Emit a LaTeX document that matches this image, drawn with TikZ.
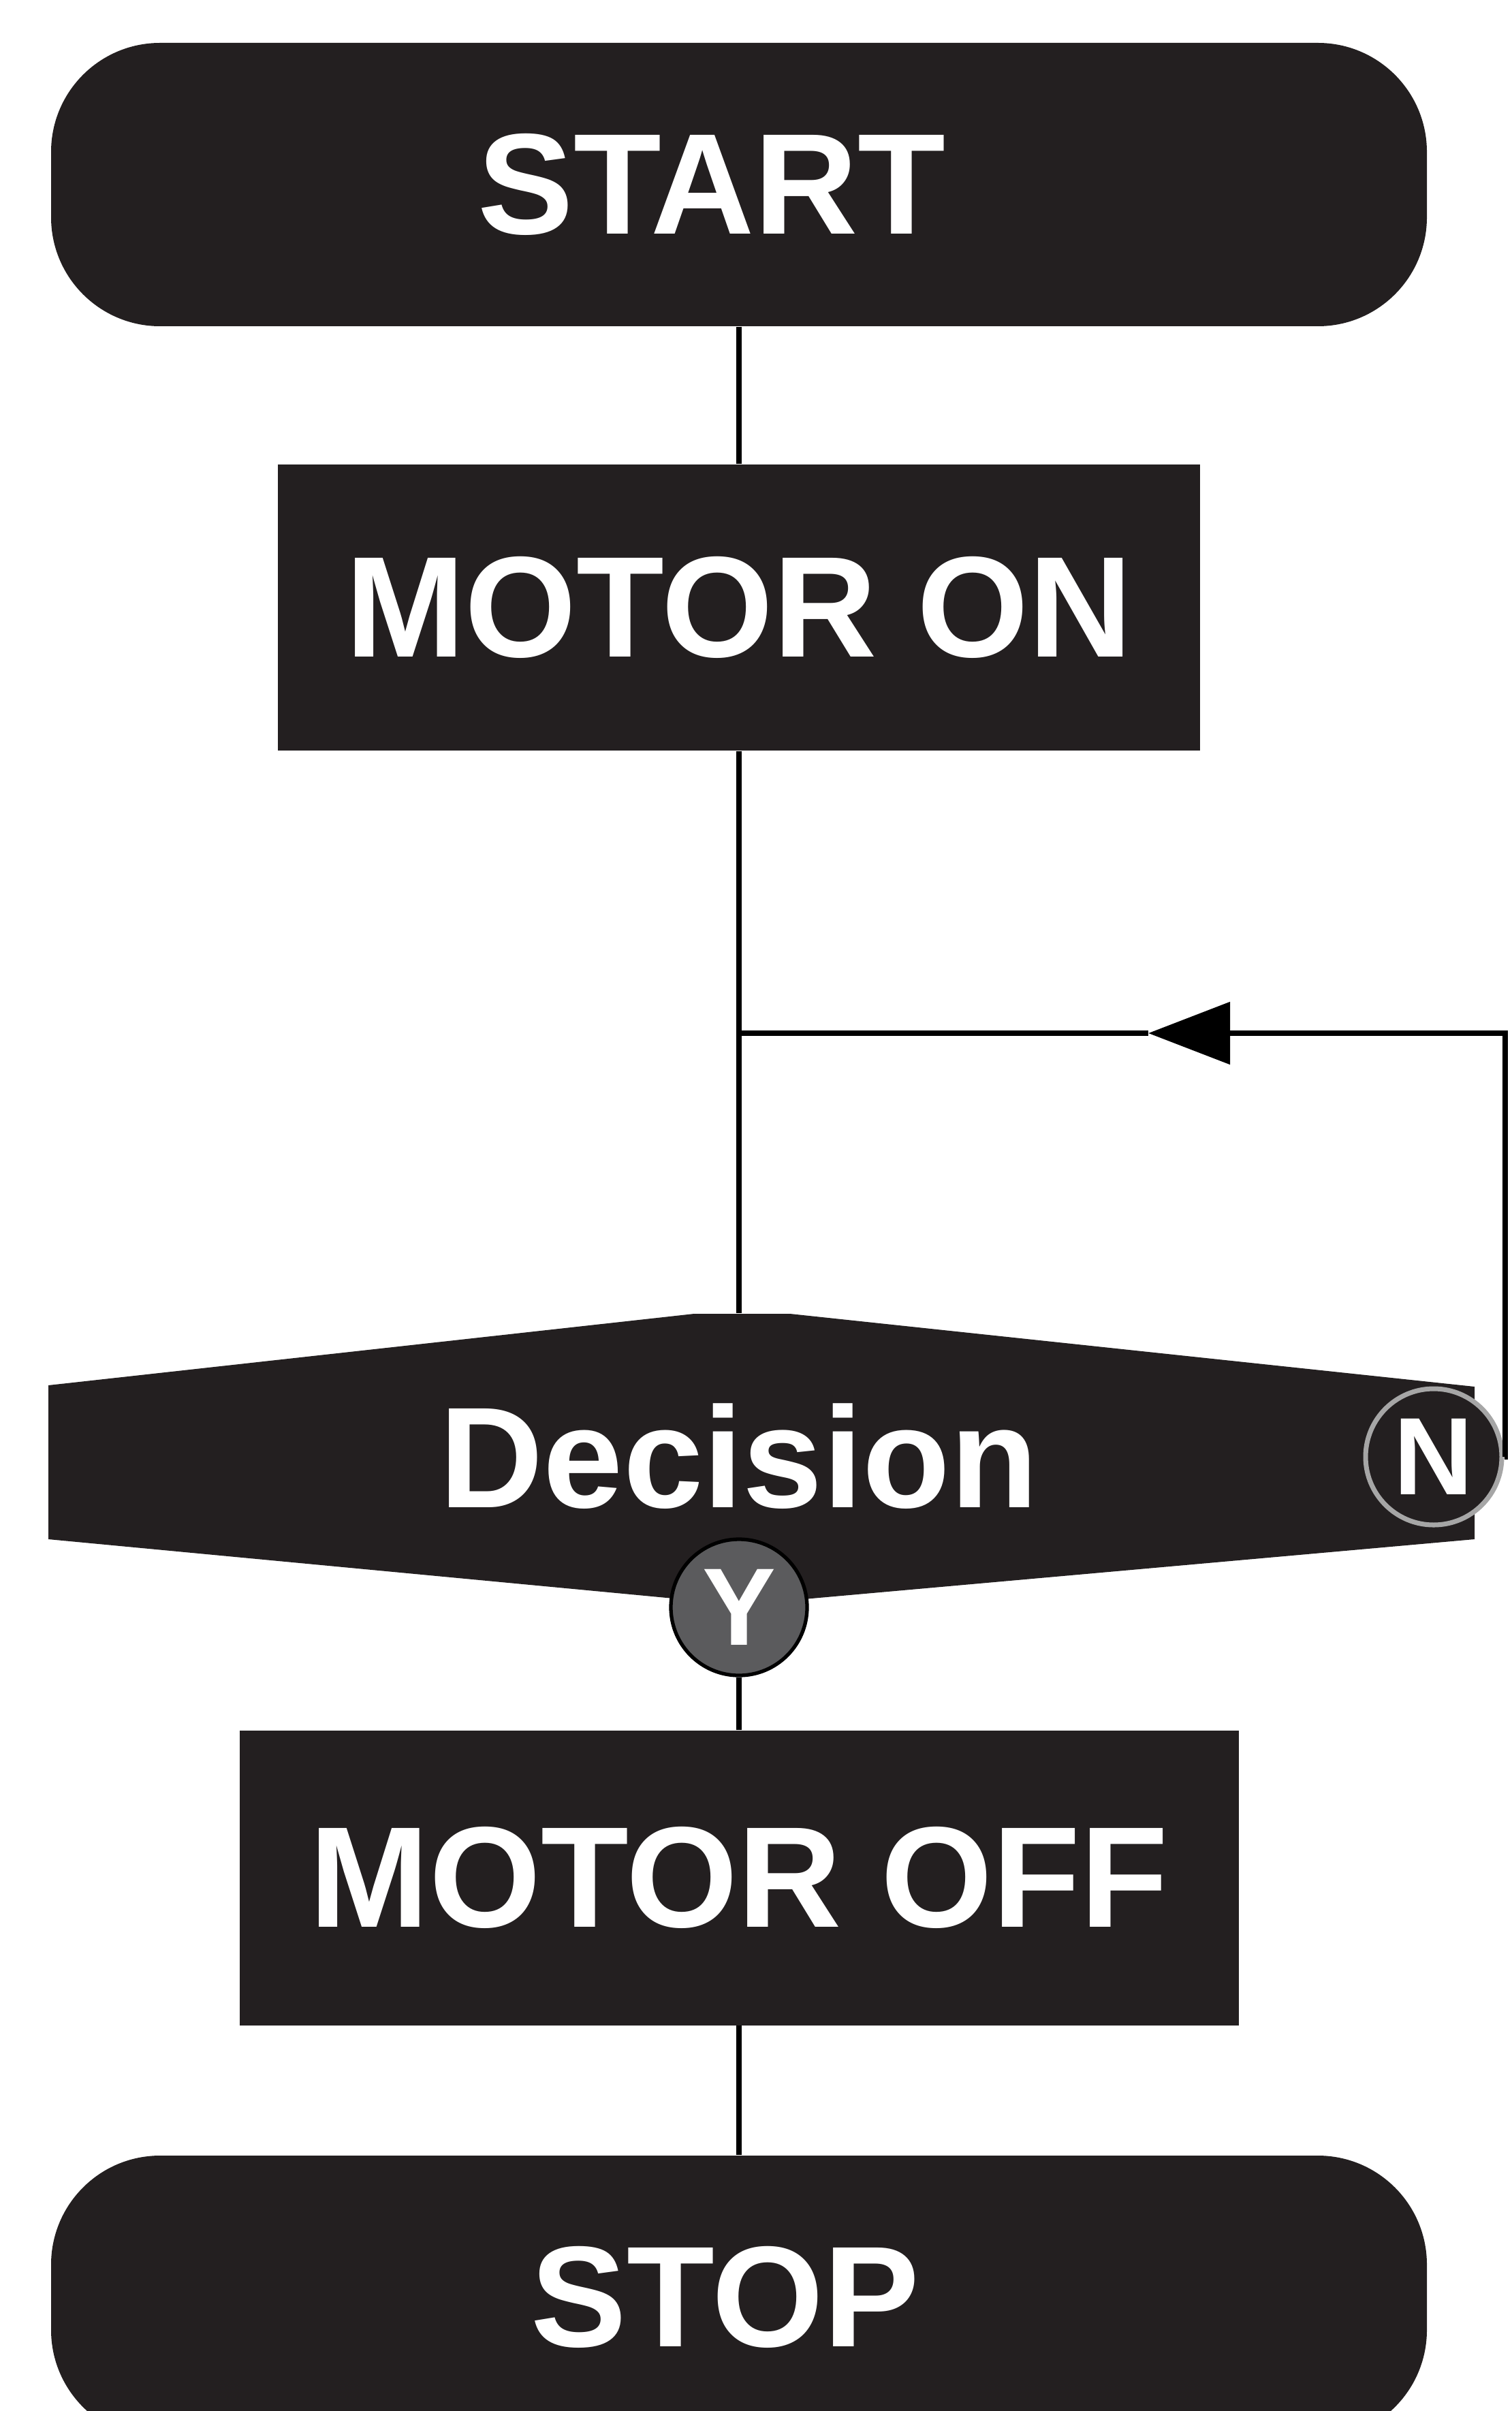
\documentclass[tikz,border=0pt]{standalone}
\usepackage{fontspec}
\setmainfont{Liberation Sans}
\usepackage{tikz}
\usetikzlibrary{arrows.meta}
\definecolor{blockschwarz}{HTML}{231F20}
\definecolor{kreisgrau}{HTML}{5B5B5D}

\begin{document}
\begin{tikzpicture}[
    linie/.style={line width=2.5pt, black},
    ablauf/.style={rectangle, fill=blockschwarz, text=white, inner sep=0pt,
      font=\fontsize{60}{72}\selectfont\bfseries},
    terminal/.style={ablauf, rounded corners=1.6cm, minimum width=20.2cm, minimum height=4.16cm},
    aktion/.style={ablauf},
    marke/.style={circle, minimum size=2cm, inner sep=0pt, text=white,
      font=\fontsize{46}{54}\selectfont\bfseries}
  ]
  \useasboundingbox (0,0) rectangle (22.19,-35.40);

  % Die Raute fuer die Entscheidung
  \fill[blockschwarz] (0.71,-20.34) -- (10.19,-19.29) -- (11.60,-19.29) -- (21.65,-20.36)
    -- (21.65,-22.60) -- (11.80,-23.48) -- (10.00,-23.48) -- (0.71,-22.60) -- cycle;

  % Die Bloecke
  \node[terminal] (start) at (10.85,-2.71) {START\kern0.8cm};
  \node[aktion, minimum width=13.54cm, minimum height=4.2cm] (mon) at (10.85,-8.92) {MOTOR ON};
  \node[ablauf, fill=none, minimum height=4.19cm] (dec) at (10.85,-21.385) {Decision};
  \node[marke, fill=kreisgrau, draw=black, line width=1.5pt] (ja) at (10.85,-23.60) {Y};
  \node[marke, fill=blockschwarz, draw=gray!70, line width=2pt] (nein) at (21.05,-21.39) {N};
  \node[aktion, minimum width=14.67cm, minimum height=4.33cm] (moff) at (10.85,-27.57) {MOTOR OFF};
  \node[terminal] (stop) at (10.85,-33.73) {STOP\kern0.4cm};

  % Hilfspunkte fuer die Rueckfuehrung
  \coordinate (einmuendung) at (10.85,-15.17);
  \coordinate (ecke) at (22.10,-15.17);
  \coordinate (pfeil) at (16.86,-15.17);

  % Die Verbindungen
  \draw[linie] (start) -- (mon);
  \draw[linie] (mon) -- (dec);
  \draw[linie] (ja) -- (moff);
  \draw[linie] (moff) -- (stop);
  \draw[linie, -{Triangle[length=1.2cm, width=0.9cm]}] (nein.east) -| (ecke) -- (pfeil);
  \draw[linie] (pfeil) -- (einmuendung);
\end{tikzpicture}
\end{document}
